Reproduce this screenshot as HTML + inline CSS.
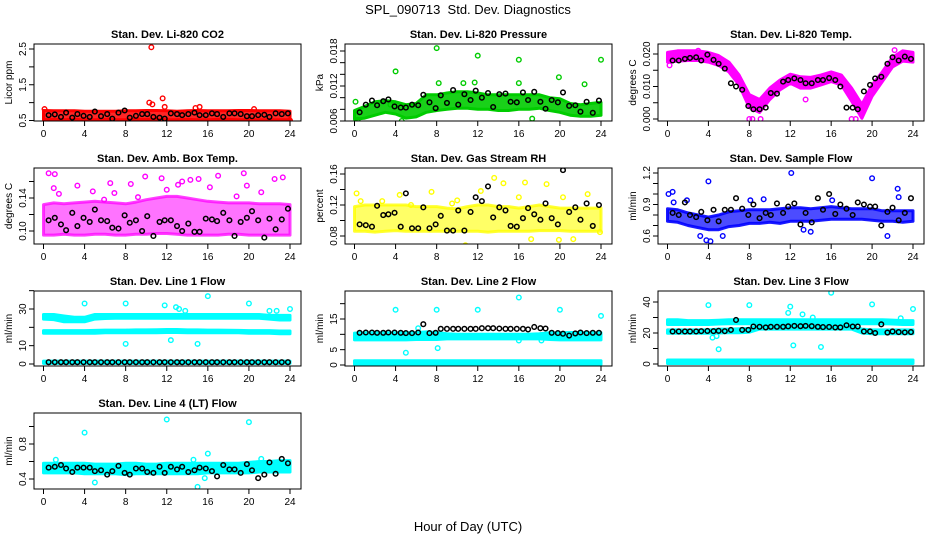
<!DOCTYPE html>
<html><head><meta charset="utf-8"><style>
body{margin:0;background:#fff}
svg{display:block;font-family:"Liberation Sans",sans-serif}
</style></head><body>
<svg id="c" width="936" height="540" xmlns="http://www.w3.org/2000/svg">
<text x="468" y="14" font-size="13" text-anchor="middle" style="white-space:pre">SPL_090713  Std. Dev. Diagnostics</text>
<text x="468" y="531" font-size="13" text-anchor="middle">Hour of Day (UTC)</text>
</svg>
<script>
const blkT=[0.5,1.1,1.7,2.2,2.8,3.3,3.9,4.5,5.0,5.6,6.2,6.7,7.3,7.9,8.4,9.0,9.6,10.1,10.7,11.3,11.8,12.4,13.0,13.5,14.1,14.7,15.2,15.8,16.4,16.9,17.5,18.1,18.6,19.2,19.8,20.3,20.9,21.5,22.0,22.6,23.2,23.8];
const xTicks=[0,4,8,12,16,20,24];
const titles=["Stan. Dev. Li-820 CO2","Stan. Dev. Li-820 Pressure","Stan. Dev. Li-820 Temp.","Stan. Dev. Amb. Box Temp.","Stan. Dev. Gas Stream RH","Stan. Dev. Sample Flow","Stan. Dev. Line 1 Flow","Stan. Dev. Line 2 Flow","Stan. Dev. Line 3 Flow","Stan. Dev. Line 4 (LT) Flow"];
const yLabels=["Licor ppm","kPa","degrees C","degrees C","percent","ml/min","ml/min","ml/min","ml/min","ml/min"];
const colors=["#ff0000","#00cc00","#ff00ff","#ff00ff","#ffff00","#0000ff","#00ffff","#00ffff","#00ffff","#00ffff"];
const yTicks=[[0.5,1,1.5,2,2.5],[0.006,0.008,0.01,0.012,0.014,0.016,0.018],[0,0.005,0.01,0.015,0.02],[0.1,0.12,0.14,0.16],[0.08,0.1,0.12,0.14,0.16],[0.6,0.7,0.8,0.9,1.0,1.1,1.2],[0,10,20,30,40],[0,5,10,15,20],[0,10,20,30,40],[0.4,0.6,0.8,1.0]];
const yTickLabels=[["0.5","","1.5","","2.5"],["0.006","","","0.012","","","0.018"],["0.000","","0.010","","0.020"],["0.10","","0.14",""],["0.08","","0.12","","0.16"],["0.6","","","0.9","","","1.2"],["0","10","","30",""],["0","5","","15",""],["0","","20","","40"],["0.4","","0.8",""]];
const blk=[
[0.65,0.67,0.6,0.72,0.58,0.68,0.63,0.6,0.75,0.62,0.68,0.55,0.72,0.78,0.58,0.63,0.68,0.68,0.6,0.58,0.55,0.7,0.68,0.65,0.68,0.72,0.65,0.65,0.7,0.68,0.6,0.7,0.7,0.68,0.62,0.62,0.65,0.66,0.6,0.7,0.68,0.7],
[0.0075,0.0088,0.0095,0.0087,0.0094,0.0097,0.0085,0.0083,0.0083,0.0088,0.0087,0.0105,0.0092,0.0082,0.0104,0.0091,0.0113,0.0088,0.0106,0.0096,0.0112,0.01,0.0108,0.0084,0.0106,0.0107,0.0093,0.0092,0.0109,0.0096,0.011,0.0093,0.0081,0.0096,0.0092,0.0109,0.0086,0.0087,0.0076,0.0093,0.0074,0.0095],
[0.018,0.018,0.0185,0.0188,0.019,0.018,0.0198,0.0182,0.017,0.0155,0.011,0.010,0.009,0.004,0.003,0.003,0.0035,0.008,0.0078,0.0115,0.012,0.0125,0.012,0.011,0.011,0.012,0.012,0.0126,0.012,0.010,0.0035,0.0035,0.003,0.0085,0.0105,0.0125,0.013,0.017,0.019,0.018,0.0192,0.0185],
[0.113,0.116,0.108,0.101,0.122,0.106,0.116,0.111,0.126,0.113,0.112,0.104,0.103,0.119,0.11,0.113,0.1,0.118,0.094,0.111,0.113,0.113,0.106,0.1,0.109,0.099,0.099,0.115,0.114,0.112,0.122,0.113,0.094,0.111,0.116,0.124,0.113,0.092,0.115,0.102,0.114,0.127],
[0.095,0.094,0.092,0.119,0.107,0.108,0.11,0.092,0.135,0.09,0.09,0.117,0.09,0.095,0.106,0.087,0.087,0.113,0.087,0.111,0.13,0.125,0.144,0.104,0.117,0.113,0.093,0.092,0.103,0.116,0.108,0.101,0.122,0.103,0.095,0.165,0.111,0.117,0.101,0.122,0.093,0.12],
[0.82,0.8,0.92,0.8,0.78,0.83,0.75,0.85,0.74,0.85,0.85,0.96,0.86,0.8,0.9,0.77,0.82,0.8,0.91,0.82,0.88,0.91,0.71,0.82,0.73,0.96,0.85,1.0,0.81,0.9,0.86,0.8,0.92,0.9,0.88,0.88,0.7,0.83,0.87,0.75,0.82,0.96],
[1,1,1,1,1,1,1,1,1,1,1,1,1,1,1,1,1,1,1,1,1,1,1,1,1,1,1,1,1,1,1,1,1,1,1,1,1,1,1,1,1,1],
[10.5,10.6,10.6,10.5,10.5,10.6,10.6,10.5,10.4,10.4,10.6,13.3,10.4,10.5,11.8,11.8,11.8,11.8,11.8,11.8,11.8,12,12,12,11.9,11.8,11.8,11.8,11.8,11.6,12.4,12.0,11.9,10.5,10.4,10.2,9.6,10.3,10.6,10.4,10.5,10.5],
[21,21,21,21,21,21.2,21.3,21.2,21.4,21.2,22,28.4,22,22,24.2,24,23.6,24,24,24,24.3,24.6,24.4,24.6,24.4,24,23.8,23.9,23.6,23.6,25,24.2,24.2,21,21,20,25.6,20.3,21,20.6,20.4,20.6],
[0.53,0.54,0.56,0.52,0.48,0.53,0.53,0.53,0.49,0.5,0.45,0.49,0.55,0.47,0.45,0.52,0.52,0.48,0.47,0.54,0.47,0.54,0.51,0.54,0.48,0.5,0.53,0.52,0.49,0.43,0.56,0.51,0.51,0.47,0.57,0.5,0.41,0.45,0.59,0.46,0.63,0.58]];
const bands=[
[[[0.52,0.53,0.52,0.53,0.52,0.52,0.53,0.52,0.52,0.53,0.53,0.53,0.52,0.52,0.53,0.52,0.52,0.53,0.53,0.52,0.52,0.52,0.52,0.52,0.52],[0.78,0.77,0.77,0.77,0.76,0.76,0.76,0.76,0.77,0.77,0.78,0.78,0.77,0.76,0.77,0.78,0.77,0.77,0.77,0.78,0.78,0.77,0.77,0.77,0.76],0.85]],
[[[0.0063,0.0065,0.007,0.0075,0.0072,0.0065,0.0067,0.0075,0.0078,0.008,0.0082,0.0082,0.008,0.008,0.0078,0.0078,0.008,0.008,0.0082,0.0078,0.0075,0.007,0.0068,0.0068,0.007],[0.0078,0.0085,0.0093,0.0095,0.0093,0.0088,0.009,0.0105,0.0105,0.0108,0.011,0.011,0.0108,0.0105,0.0105,0.0105,0.0105,0.0105,0.0105,0.01,0.0098,0.009,0.0088,0.009,0.0092],0.9]],
[[[0.0175,0.0178,0.018,0.018,0.0175,0.0165,0.0145,0.0105,0.0035,0.002,0.006,0.009,0.011,0.0095,0.0095,0.0105,0.0115,0.0105,0.0055,0.0002,0.007,0.0115,0.016,0.0178,0.0175],[0.0205,0.021,0.021,0.021,0.0205,0.0195,0.0175,0.0135,0.0075,0.006,0.0095,0.012,0.0138,0.013,0.0128,0.0135,0.0145,0.0135,0.0095,0.0045,0.0105,0.0145,0.019,0.021,0.0205],1]],
[[[0.095,0.095,0.096,0.095,0.095,0.096,0.096,0.095,0.095,0.096,0.096,0.097,0.097,0.096,0.095,0.095,0.095,0.095,0.096,0.096,0.095,0.095,0.095,0.095,0.095],[0.132,0.134,0.133,0.134,0.135,0.136,0.135,0.134,0.133,0.135,0.138,0.14,0.142,0.142,0.14,0.138,0.136,0.135,0.134,0.134,0.134,0.133,0.133,0.133,0.132],0.55]],
[[[0.086,0.086,0.085,0.086,0.087,0.086,0.086,0.086,0.086,0.086,0.086,0.086,0.086,0.085,0.086,0.086,0.086,0.086,0.087,0.087,0.087,0.086,0.086,0.086,0.086],[0.118,0.12,0.12,0.12,0.12,0.12,0.118,0.118,0.118,0.116,0.115,0.118,0.12,0.12,0.118,0.118,0.116,0.118,0.12,0.118,0.116,0.116,0.116,0.116,0.116],0.6]],
[[[0.74,0.73,0.7,0.68,0.66,0.66,0.69,0.7,0.72,0.72,0.73,0.72,0.74,0.74,0.74,0.75,0.76,0.76,0.76,0.76,0.75,0.74,0.74,0.73,0.74],[0.86,0.85,0.82,0.8,0.78,0.8,0.83,0.84,0.85,0.85,0.85,0.86,0.87,0.87,0.86,0.87,0.88,0.87,0.86,0.86,0.86,0.84,0.84,0.84,0.84],0.7]],
[[[24.5,24.2,23,23,23,24.5,24.8,25,25,25,25,25,25,25,25,25,25,25,25,25,25,25,24.5,24,24],[27,27,26.2,25.5,25.5,27,27,27,27,27,27,27,27,27,27,27,27,27,27,27,27,27,26.5,26.5,26.5],1],
 [[16.8,16.8,16.8,16.8,16.8,16.8,17,17,17,17,17,17,17.2,17.2,17,17,17,17,17,17,16.8,16.8,16.8,16.5,16.5],[18.2,18.2,18.2,18.2,18.2,18.3,18.5,18.5,18.5,18.6,18.6,18.7,18.8,18.8,18.6,18.6,18.5,18.5,18.4,18.3,18.2,18.2,18.2,18,18],1],
 [[0.3,0.3,0.3,0.3,0.3,0.3,0.3,0.3,0.3,0.3,0.3,0.3,0.3,0.3,0.3,0.3,0.3,0.3,0.3,0.3,0.3,0.3,0.3,0.3,0.3],[1.6,1.6,1.6,1.6,1.6,1.6,1.6,1.6,1.6,1.6,1.6,1.6,1.6,1.6,1.6,1.6,1.6,1.6,1.6,1.6,1.6,1.6,1.6,1.6,1.6],1]],
[[[8.2,8.2,8.2,8.2,8.2,8.2,8.3,8.3,8.3,8.5,8.5,8.5,8.5,8.5,8.5,8.5,8.5,8.5,8.5,8.3,8.2,8.2,8.2,8.2,8.2],[10.4,10.5,10.5,10.5,10.5,10.5,10.6,10.8,10.6,10.2,10,10,10,10,10,10,10,10,10.2,10.5,10.5,10.6,10.6,10.5,10.5],1],
 [[0.2,0.2,0.2,0.2,0.2,0.2,0.2,0.2,0.2,0.2,0.2,0.2,0.2,0.2,0.2,0.2,0.2,0.2,0.2,0.2,0.2,0.2,0.2,0.2,0.2],[1.4,1.4,1.4,1.4,1.4,1.4,1.4,1.4,1.4,1.4,1.4,1.4,1.4,1.4,1.4,1.4,1.4,1.4,1.4,1.4,1.4,1.4,1.4,1.4,1.4],1]],
[[[25.5,25.5,25.5,25.5,25.5,25.8,26,26,26,26,26,26,26,26,26,26,26,26,26,26,26,26,25.8,25.5,25.5],[28.5,28.5,28,28,28,28.2,28.5,28.5,28.5,28.5,28.5,28.5,28.5,28.5,28.5,28.5,28.5,28.5,28.5,28.5,28.5,28.5,28.3,28,28],1],
 [[19.8,19.8,19.8,19.8,19.8,20,20.2,20.2,20.5,22.5,22.5,22.5,22.5,22.5,22.5,22.5,22.5,22.5,22.5,20,19.5,19.5,19.5,19.5,19.5],[22,22,22,22,22,22.5,22.5,22.8,23,25,25,25,25,25,25,25,25,25,25,22.5,22,22,22,22,22],1],
 [[0.3,0.3,0.3,0.3,0.3,0.3,0.3,0.3,0.3,0.3,0.3,0.3,0.3,0.3,0.3,0.3,0.3,0.3,0.3,0.3,0.3,0.3,0.3,0.3,0.3],[2.6,2.6,2.6,2.6,2.6,2.6,2.6,2.6,2.6,2.6,2.6,2.6,2.6,2.6,2.6,2.6,2.6,2.6,2.6,2.6,2.6,2.6,2.6,2.6,2.6],1]],
[[[0.47,0.47,0.47,0.47,0.46,0.46,0.46,0.46,0.45,0.46,0.46,0.46,0.46,0.46,0.46,0.46,0.47,0.47,0.47,0.47,0.47,0.48,0.48,0.48,0.48],[0.58,0.58,0.58,0.58,0.58,0.57,0.57,0.57,0.58,0.58,0.57,0.57,0.58,0.58,0.58,0.58,0.58,0.58,0.58,0.58,0.59,0.6,0.6,0.61,0.61],1]]];
const outX=[
[10.5,10.3,10.6,11.6,11.8,14.8,15.2,20.5,0.1,6.3,24],
[0.1,4,8,12,16,19.9,22.4,24,8.2,16,0.3,4.6,10.6,11.7,3.5,17.3],
[0.2,8,8.3,9.1,18,18.4,13.5,3,22.2,1],
[0.5,1.1,1,3.3,6.5,8.5,9.9,11.5,13.5,14.3,15.1,17,19.5,19.8,22.5,23.3,1.5,4.8,6.9,12,16.2,21.2,9.2,13.1,5.9,18.8],
[0.2,4.4,7.5,13.6,14.5,16.6,18.7,20.3,22.7,10.8,0.6,5.5,10,12.3,16,17.2,19.9,21.3,23.9,2.7,9.5],
[0.1,0.5,4,12.1,20,22.5,22.6,3.8,4.2,0.6,16.1,1.9,8.1,9.4,14,21.5,5.4,3.2,13.3],
[4,8,16,20,11.8,22,22.7,24,12.4,15,8,13.2,13.8,12.9],
[4,8,12,16,20,24,5,8.1,6.2,16,18.2],
[4,8,12,16,20,24,5,11.8,12.3,15,4.4,13.2,14.2,4.8,22.8],
[4,12,20,16,15,5,1.2,21.2,14.6,15.7]];
const outY=[
[2.55,1.0,0.95,1.12,0.88,0.85,0.88,0.82,0.82,0.5,0.5],
[0.0093,0.0145,0.0185,0.0172,0.0165,0.0135,0.0123,0.0165,0.0125,0.0125,0.0062,0.006,0.0125,0.0126,0.0088,0.0064],
[0.0165,0,0,0,0,0,0.006,0.021,0.0212,0.0205],
[0.17,0.169,0.152,0.155,0.158,0.157,0.166,0.164,0.16,0.162,0.163,0.167,0.17,0.155,0.163,0.165,0.145,0.148,0.146,0.15,0.153,0.147,0.141,0.156,0.138,0.142],
[0.135,0.133,0.137,0.155,0.148,0.149,0.147,0.13,0.134,0.068,0.125,0.12,0.126,0.138,0.13,0.076,0.075,0.076,0.085,0.125,0.122],
[1.0,1.02,1.12,1.2,1.15,1.05,0.97,0.56,0.55,0.92,0.94,0.94,0.94,0.95,0.64,0.6,0.6,0.6,0.66],
[33,33,37,33,32,29,29,30,13,11,11,30,29,31],
[18,18,18,22,18,16,4,5.5,12,8,8],
[38,38,37,46,38.5,35.5,9.5,33,12,11,17,32,30,18,29.5],
[0.93,1.08,1.05,0.69,0.31,0.36,0.62,0.63,0.62,0.41]];

const colX=[[34,301],[345,612],[658,924]];
const rowY=[[44,121],[168,244],[291,366],[413,489]];
const yCal=[[0.5,120.5,2.5,49],[0.006,121,0.018,51],[0,119,0.02,54],[0.1,231,0.14,198],[0.08,236,0.16,174],[0.6,236,1.2,173],[0,364,30,309],[0,365,15,319],[0,364,40,302],[0.4,479,0.8,444]];
const NS="http://www.w3.org/2000/svg";
const svg=document.getElementById('c');
function mk(tag,attrs,parent){const e=document.createElementNS(NS,tag);for(const k in attrs)e.setAttribute(k,attrs[k]);(parent||svg).appendChild(e);return e;}

for(let p=0;p<10;p++){
  const c=p%3,r=Math.floor(p/3);
  const L=colX[c][0],R=colX[c][1],T=rowY[r][0],B=rowY[r][1];
  const x0=L+9.5,x1=R-11;
  const xs=v=>x0+(x1-x0)*v/24;
  const cal=yCal[p];
  const ys=v=>cal[1]+(cal[3]-cal[1])*(v-cal[0])/(cal[2]-cal[0]);
  const g=mk('g',{});
  
  
  const cid='clip'+p;
  const cp=mk('clipPath',{id:cid},g);mk('rect',{x:L,y:T,width:R-L,height:B-T},cp);
  const t=mk('text',{x:(L+R)/2,y:T-6,'font-size':11,'font-weight':'bold','text-anchor':'middle'},g);
  t.textContent=titles[p];
  
  
  const yl=mk('text',{x:0,y:0,'font-size':10,'text-anchor':'middle',transform:`translate(${L-22},${(T+B)/2}) rotate(-90)`},g);
  yl.textContent=yLabels[p];
  
  
  const col=colors[p];
  const data=mk('g',{'clip-path':`url(#${cid})`},g);
  
  
  bands[p].forEach(b=>{
    const lo=b[0],hi=b[1];
    let d='';
    for(let h=0;h<=24;h++)d+=(h?'L':'M')+xs(h).toFixed(1)+','+ys(hi[h]).toFixed(1);
    for(let h=24;h>=0;h--)d+='L'+xs(h).toFixed(1)+','+ys(lo[h]).toFixed(1);
    const band=mk('path',{d:d+'Z',fill:col,'fill-opacity':b[2],stroke:col,'stroke-opacity':Math.min(1,b[2]+0.2),'stroke-width':3,'stroke-linejoin':'round'},data);
    
    
  });
  outX[p].forEach((xv,i)=>{
    const o=mk('circle',{cx:xs(xv),cy:ys(outY[p][i]),r:2.3,fill:'none',stroke:col,'stroke-width':1.4},data);
    
    
  });
  blkT.forEach((tv,i)=>{
    const o=mk('circle',{cx:xs(tv),cy:ys(blk[p][i]),r:2.3,fill:'none',stroke:'#000','stroke-width':1.5},data);
    
    
  });
  mk('rect',{x:L,y:T,width:R-L,height:B-T,fill:'none',stroke:'#000','stroke-width':1},g);
  xTicks.forEach(v=>{
    mk('line',{x1:xs(v),x2:xs(v),y1:B,y2:B+5,stroke:'#000'},g);
    const tl=mk('text',{x:xs(v),y:B+16,'font-size':10,'text-anchor':'middle'},g);
    tl.textContent=v;
    
    
  });
  yTicks[p].forEach((v,i)=>{
    const y=ys(v);
    if(y<T-6||y>B+6)return;
    mk('line',{x1:L-5,x2:L,y1:y,y2:y,stroke:'#000'},g);
    const s=yTickLabels[p][i];
    if(s){
      const tl=mk('text',{x:0,y:0,'font-size':10,'text-anchor':'middle',transform:`translate(${L-8},${y}) rotate(-90)`},g);
      tl.textContent=s;
      
      
    }
  });
}
</script>
</body></html>
